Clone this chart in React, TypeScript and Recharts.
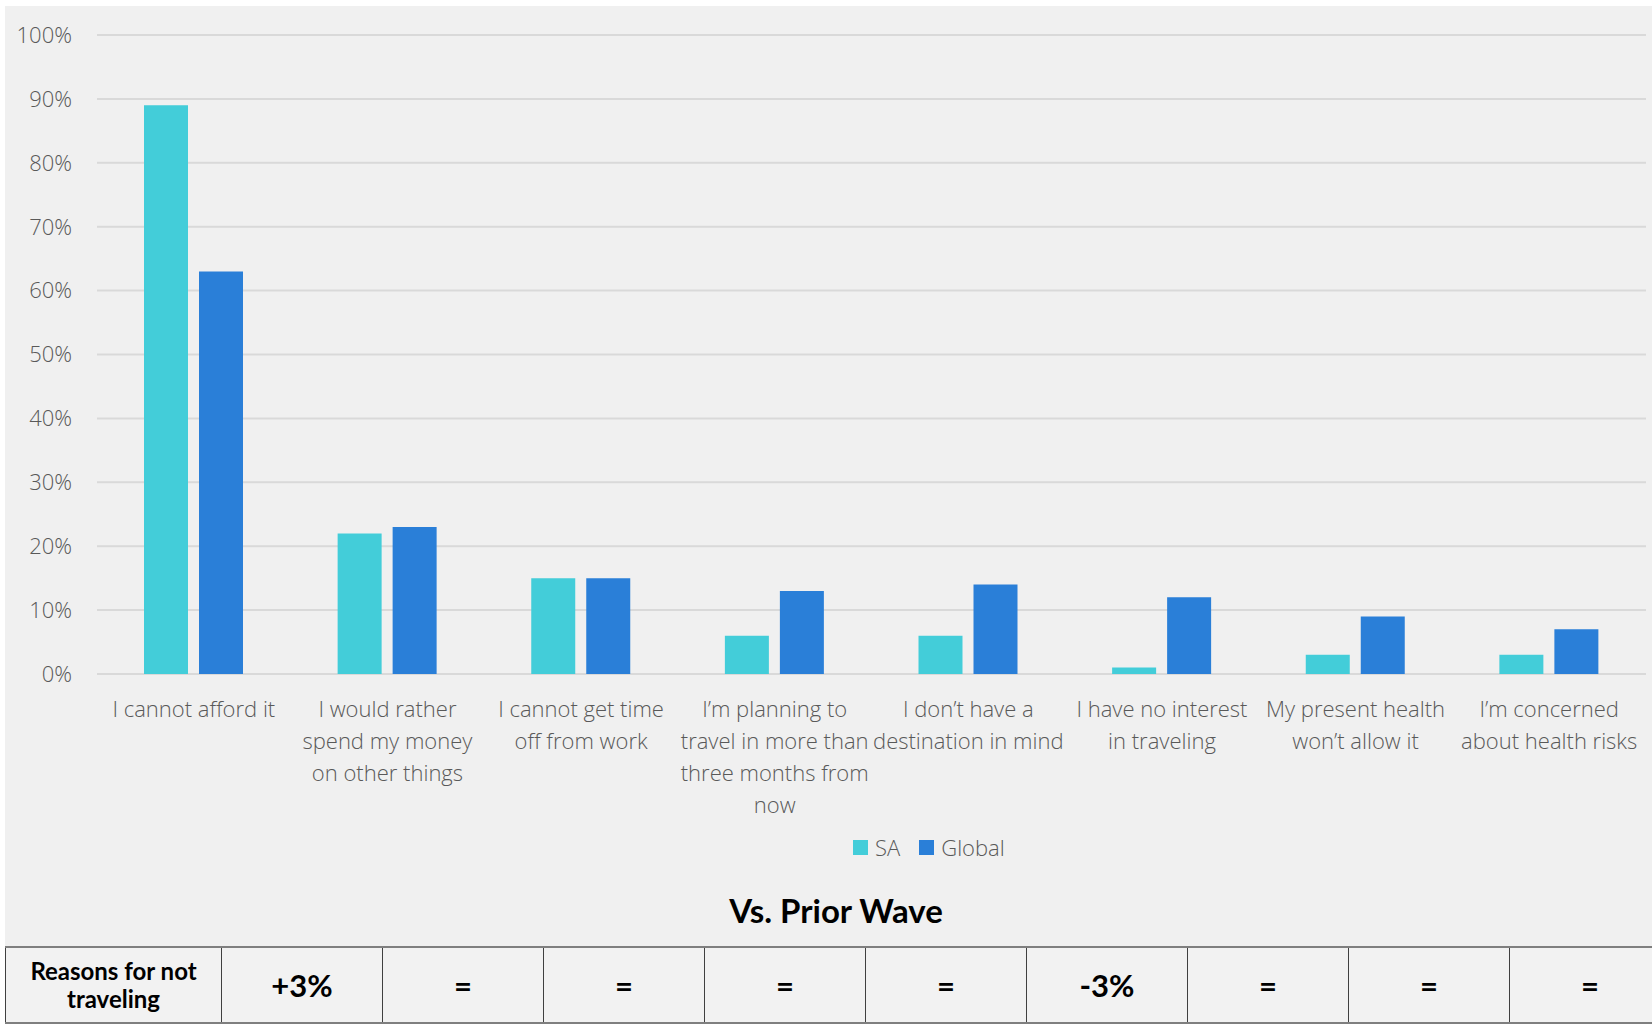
import React from "react";
import { BarChart, Bar, XAxis, YAxis, CartesianGrid, Legend } from "recharts";

// Reasons for not traveling (line breaks mark how each axis label wraps)
const categories = [
  "I cannot afford it",
  "I would rather\nspend my money\non other things",
  "I cannot get time\noff from work",
  "I\u2019m planning to\ntravel in more than\nthree months from\nnow",
  "I don\u2019t have a\ndestination in mind",
  "I have no interest\nin traveling",
  "My present health\nwon\u2019t allow it",
  "I\u2019m concerned\nabout health risks",
];

const saValues = [89, 22, 15, 6, 6, 1, 3, 3];
const globalValues = [63, 23, 15, 13, 14, 12, 9, 7];

const yTicks = [0, 10, 20, 30, 40, 50, 60, 70, 80, 90, 100];

const seriesKeys = ["sa", "global"];
const seriesNames: Record<string, string> = { sa: "SA", global: "Global" };
const seriesColors: Record<string, string> = { sa: "#43CDD9", global: "#2A7FD8" };

const tableTitle = "Vs. Prior Wave";
const tableRowLabel = ["Reasons for not", "traveling"];
const priorWaveChanges = ["+3%", "=", "=", "=", "=", "-3%", "=", "=", "="];

const chartData = categories.map((name, i) => ({
  name,
  sa: saValues[i],
  global: globalValues[i],
}));

const AXIS_FONT = "'Open Sans', 'Segoe UI', sans-serif";
const AXIS_COLOR = "#595959";
const TABLE_FONT = "Lato, 'Century Gothic', sans-serif";

function CategoryTick(props: any) {
  const { x, y, payload } = props;
  const lines = String(payload.value).split("\n");
  return (
    <g transform={`translate(${x},${y})`}>
      <text
        textAnchor="middle"
        fill={AXIS_COLOR}
        fontFamily={AXIS_FONT}
        fontWeight={300}
        fontSize={22}
      >
        {lines.map((line, i) => (
          <tspan key={i} x={0} y={43 + i * 32}>
            {line}
          </tspan>
        ))}
      </text>
    </g>
  );
}

// Legend drawn in series order: SA first, then Global
function LegendContent() {
  return (
    <div
      style={{
        display: "flex",
        alignItems: "center",
        height: 30,
        paddingLeft: 853,
        fontFamily: AXIS_FONT,
        fontWeight: 300,
        fontSize: 22,
        color: AXIS_COLOR,
      }}
    >
      {seriesKeys.map((key) => (
        <div
          key={key}
          style={{ display: "flex", alignItems: "center", marginRight: 19 }}
        >
          <div
            style={{
              width: 15,
              height: 15,
              background: seriesColors[key],
              marginRight: 7,
            }}
          />
          <span>{seriesNames[key]}</span>
        </div>
      ))}
    </div>
  );
}

export default function App() {
  return (
    <div
      style={{
        position: "absolute",
        left: 0,
        top: 0,
        width: 1652,
        height: 1024,
        background: "#ffffff",
        overflow: "hidden",
      }}
    >
      <div
        style={{
          position: "absolute",
          left: 5,
          top: 6,
          width: 1647,
          height: 1018,
          background: "#f0f0f0",
        }}
      />
      <div style={{ position: "absolute", left: 0, top: 0 }}>
        <BarChart
          width={1652}
          height={862}
          data={chartData}
          margin={{ top: 35, right: 6, left: 0, bottom: 0 }}
          barSize={44}
          barGap={11}
        >
          <CartesianGrid
            vertical={false}
            stroke="#d9d9d9"
            strokeWidth={2}
          />
          <XAxis
            dataKey="name"
            axisLine={false}
            tickLine={false}
            tickSize={0}
            tickMargin={0}
            interval={0}
            height={158}
            tick={<CategoryTick />}
          />
          <YAxis
            domain={[0, 100]}
            ticks={yTicks}
            width={97}
            axisLine={false}
            tickLine={false}
            tickSize={0}
            tickMargin={25}
            tickFormatter={(v: number) => `${v}%`}
            tick={{
              fill: AXIS_COLOR,
              fontFamily: AXIS_FONT,
              fontWeight: 300,
              fontSize: 22,
            }}
          />
          <Legend
            verticalAlign="bottom"
            content={<LegendContent />}
            wrapperStyle={{ left: 0, width: 1652, height: 30 }}
          />
          <Bar
            dataKey="sa"
            name={seriesNames.sa}
            fill={seriesColors.sa}
            isAnimationActive={false}
          />
          <Bar
            dataKey="global"
            name={seriesNames.global}
            fill={seriesColors.global}
            isAnimationActive={false}
          />
        </BarChart>
      </div>

      <div
        style={{
          position: "absolute",
          left: 0,
          top: 890,
          width: 1672,
          textAlign: "center",
          fontFamily: TABLE_FONT,
          fontWeight: 700,
          fontSize: 33,
          color: "#000",
          lineHeight: "40px",
        }}
      >
        {tableTitle}
      </div>

      <table
        style={{
          position: "absolute",
          left: 5,
          top: 946,
          borderCollapse: "collapse",
          tableLayout: "fixed",
          width: 1666,
          background: "#f2f2f2",
          fontFamily: TABLE_FONT,
          fontWeight: 700,
          color: "#000",
        }}
      >
        <tbody>
          <tr style={{ height: 76 }}>
            <td
              style={{
                width: 215,
                borderTop: "2px solid #7f7f7f",
                borderLeft: "1px solid #404040",
                borderRight: "1px solid #404040",
                borderBottom: "2px solid #7f7f7f",
                textAlign: "center",
                fontSize: 24,
                lineHeight: "28px",
                padding: 0,
              }}
            >
              {tableRowLabel.map((l, i) => (
                <div key={i}>{l}</div>
              ))}
            </td>
            {priorWaveChanges.map((v, i) => (
              <td
                key={i}
                style={{
                  width: 160,
                  borderTop: "2px solid #7f7f7f",
                  borderLeft: "1px solid #404040",
                  borderRight: "1px solid #404040",
                  borderBottom: "2px solid #7f7f7f",
                  textAlign: "center",
                  fontSize: 31,
                  padding: 0,
                }}
              >
                {v}
              </td>
            ))}
          </tr>
        </tbody>
      </table>
    </div>
  );
}
